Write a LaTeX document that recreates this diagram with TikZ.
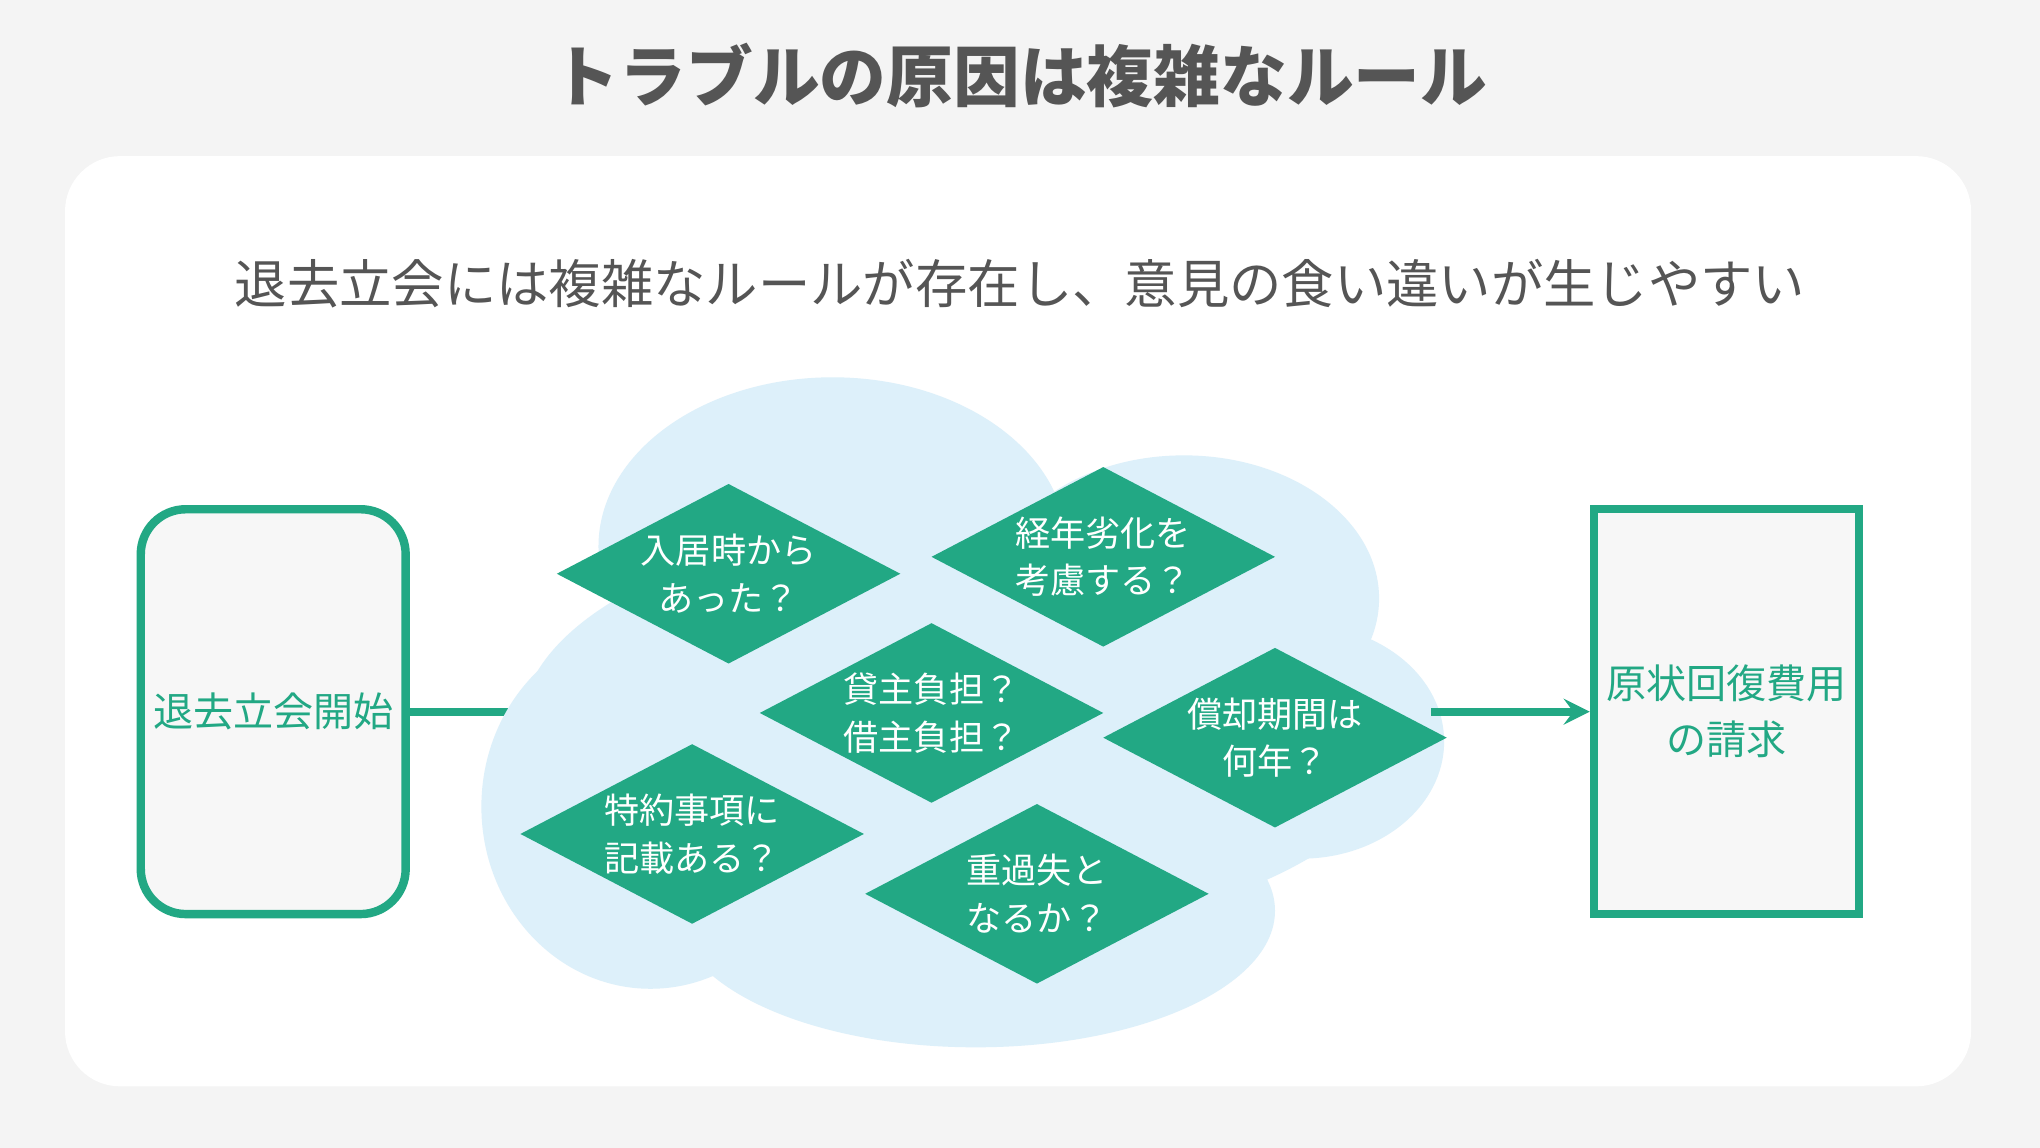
\documentclass[tikz,border=0pt]{standalone}
\usepackage{fontspec}
\setmainfont{Noto Sans CJK JP}
\usetikzlibrary{shapes.geometric, positioning, calc}
\definecolor{bggray}{HTML}{F4F4F4}
\definecolor{tgreen}{HTML}{22A884}
\definecolor{cloudblue}{HTML}{DDF0FA}
\definecolor{textgray}{HTML}{555555}

% diamond question: name, position, text
\newcommand{\qdiamond}[3]{%
  \fill[tgreen] ($#2+(-132,0)$) -- ($#2+(0,-69)$) -- ($#2+(132,0)$) -- ($#2+(0,69)$) -- cycle;
  \node[question] (#1) at #2 {#3};}

\begin{document}
\begin{tikzpicture}[
    x=0.01301cm, y=-0.01301cm,
    question/.style={text=white, inner sep=0pt, align=center, font=\fontsize{10}{13.5}\selectfont},
    endbox/.style={draw=tgreen, line width=2.4pt, fill=white!97!black, text=tgreen, minimum width=2.65cm, minimum height=4.05cm, align=center, inner sep=1pt, font=\fontsize{11.4}{16}\selectfont},
    cloudpart/.style={fill=cloudblue},
    arrow/.style={->, >=stealth, line width=2.2pt, draw=tgreen}
]
    % Background and panel
    \fill[bggray] (0,0) rectangle (1568,882);
    \useasboundingbox (0,0) rectangle (1568,882);
    \fill[white, rounded corners=0.55cm] (50,120) rectangle (1515,835);

    % Titles
    \node[font=\bfseries\fontsize{19}{22}\selectfont, text=textgray] (title) at (784,58) {トラブルの原因は複雑なルール};
    \node[font=\fontsize{14.9}{18}\selectfont, text=textgray] (sub) at (784,218) {退去立会には複雑なルールが存在し、意見の食い違いが生じやすい};

    % Connector behind cloud
    \node[endbox, rounded corners=0.45cm] (start) at (210,547) {退去立会開始};
    \node[endbox] (bill) at (1327,547) {原状回復費用\\の請求};
    \coordinate (cin) at (400,547);
    \coordinate (cout) at (1100,547);
    \draw[line width=2.2pt, tgreen] (start) -- (cin);

    % Cloud
    \fill[cloudpart] (640,420) ellipse (180 and 130);
    \fill[cloudpart] (910,460) ellipse (150 and 110);
    \fill[cloudpart] (740,560) ellipse (340 and 160);
    \fill[cloudpart] (500,620) ellipse (130 and 140);
    \fill[cloudpart] (750,700) ellipse (230 and 105);
    \fill[cloudpart] (1000,570) ellipse (110 and 90);

    \draw[arrow] (cout) -- (bill);

    % Diamonds
    \qdiamond{d1}{(560,441)}{入居時から\\あった？}
    \qdiamond{d2}{(848,428)}{経年劣化を\\考慮する？}
    \qdiamond{d3}{(716,548)}{貸主負担？\\借主負担？}
    \qdiamond{d4}{(980,567)}{償却期間は\\何年？}
    \qdiamond{d5}{(532,641)}{特約事項に\\記載ある？}
    \qdiamond{d6}{(797,687)}{重過失と\\なるか？}
\end{tikzpicture}
\end{document}
